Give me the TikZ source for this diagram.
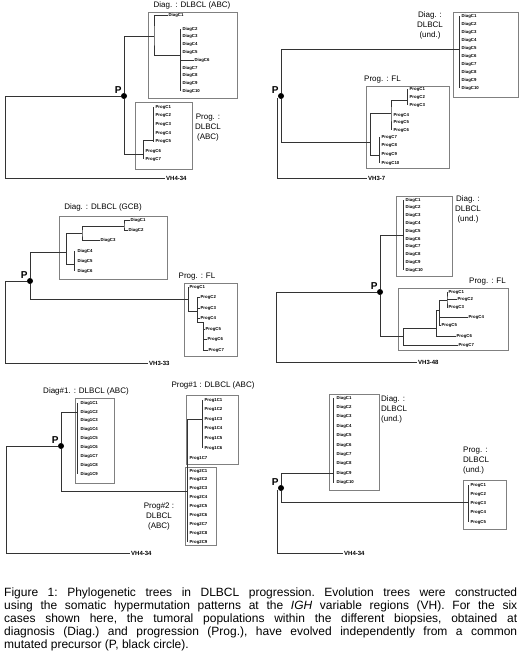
\documentclass[tikz,border=0pt]{standalone}
\usepackage{fontspec}
\setmainfont{Liberation Sans}
\usetikzlibrary{positioning, fit}

\begin{document}
\begin{tikzpicture}[x=1pt,y=-1pt,
      br/.style={draw=black!80,line width=0.7pt},
      every fit/.style={draw=black!50,line width=0.6pt,inner sep=0pt},
      leaf/.style={anchor=west,inner sep=0.4pt,font=\fontsize{4.3}{5}\selectfont\bfseries},
      vh/.style={anchor=west,inner sep=1pt,font=\fontsize{6}{6}\selectfont\bfseries},
      grp/.style={inner sep=0pt,align=center,font=\fontsize{8}{10}\selectfont},
      pdot/.style={circle,fill=black,inner sep=0pt,minimum size=6pt},
      plab/.style={inner sep=0pt,font=\fontsize{10}{10}\selectfont\bfseries}]
    \useasboundingbox (0,0) rectangle (520,663);

    %% case 1
    \node[pdot] (p1) at (124,96) {};
    \node[plab, above left=0pt of p1] {P};
    \node[grp] (d1lab) at (192,5) {Diag. : DLBCL (ABC)};
    \node[fit={(148,12) (237,98)}] (d1box) {};
    \node[leaf] (d1c1) at (168,15) {DiagC1};
    \foreach \i in {2,3,4,5,7,8,9,10}
      \node[leaf] (d1c\i) at (182,{29+7.8*(\i-2)}) {DiagC\i};
    \node[leaf] (d1c6) at (194,60.2) {DiagC6};
    \coordinate (d1a) at (154,36);
    \coordinate (d1b) at (180,55);
    \draw[br] (d1c1.west) -| (d1a) |- (d1b);
    \draw[br] (d1c2.west -| d1b) -- (d1c10.west -| d1b);
    \draw[br] (d1c6.west -| d1b) -- (d1c6.west);
    \draw[br] (p1) |- (d1a);
    \node[grp] (r1lab) at (208,128) {Prog. :\\DLBCL\\(ABC)};
    \node[fit={(135,102) (192,169)}] (r1box) {};
    \foreach \i in {1,...,5}
      \node[leaf] (r1c\i) at (155,{107+8.7*(\i-1)}) {ProgC\i};
    \node[leaf] (r1c6) at (145,151) {ProgC6};
    \node[leaf] (r1c7) at (145,159) {ProgC7};
    \coordinate (r1a) at (143,154);
    \coordinate (r1b) at (153,140);
    \draw[br] (r1c1.west -| r1b) -- (r1c5.west -| r1b);
    \draw[br] (r1b) -| (r1c7.west -| r1a);
    \draw[br] (p1) |- (r1a);
    \coordinate (o1) at (5,178);
    \node[vh] (vh1) at (165,178) {VH4-34};
    \draw[br] (p1) -| (o1) -- (vh1.west);

    %% case 2
    \node[pdot] (p2) at (281,96) {};
    \node[plab, above left=0pt of p2] {P};
    \node[grp] (d2lab) at (430,25) {Diag. :\\DLBCL\\(und.)};
    \node[fit={(453,12) (518,97)}] (d2box) {};
    \foreach \i in {1,...,10}
      \node[leaf] (d2c\i) at (461,{16+8*(\i-1)}) {DiagC\i};
    \coordinate (d2a) at (459,49);
    \draw[br] (d2c1.west -| d2a) -- (d2c10.west -| d2a);
    \draw[br] (p2) |- (d2a);
    \node[grp, anchor=west] (r2lab) at (364,80) {Prog. : FL};
    \node[fit={(366,86) (449,168)}] (r2box) {};
    \foreach \i in {1,2,3}
      \node[leaf] (r2c\i) at (409,{89+8*(\i-1)}) {ProgC\i};
    \foreach \i in {4,5,6}
      \node[leaf] (r2c\i) at (393,{115+7.5*(\i-4)}) {ProgC\i};
    \foreach \i in {7,...,10}
      \node[leaf] (r2c\i) at (381,{137+8.7*(\i-7)}) {ProgC\i};
    \coordinate (r2a) at (370,142);
    \coordinate (r2b) at (391,113);
    \coordinate (r2c) at (407,100);
    \coordinate (r2d) at (379,155);
    \draw[br] (r2c1.west -| r2c) -- (r2c3.west -| r2c);
    \draw[br] (r2c) -| (r2b) -- (r2c6.west -| r2b);
    \draw[br] (r2b) -- (r2b -| r2a) -- (r2d -| r2a) -- (r2d);
    \draw[br] (r2c7.west -| r2d) -- (r2c10.west -| r2d);
    \draw[br] (p2) |- (r2a);
    \coordinate (o2) at (277,98);
    \node[vh] (vh2) at (367,178) {VH3-7};
    \draw[br] (o2) |- (vh2.west);

    %% case 3
    \node[pdot] (p3) at (30,281) {};
    \node[plab, above left=0pt of p3] {P};
    \node[grp] (d3lab) at (103,207) {Diag. : DLBCL (GCB)};
    \node[fit={(59,216) (167,279)}] (d3box) {};
    \node[leaf] (d3c1) at (130,220) {DiagC1};
    \node[leaf] (d3c2) at (128,230) {DiagC2};
    \node[leaf] (d3c3) at (100,240) {DiagC3};
    \foreach \i in {4,5,6}
      \node[leaf] (d3c\i) at (77,{251+10*(\i-4)}) {DiagC\i};
    \coordinate (d3a) at (66,252);
    \coordinate (d3b) at (82,233);
    \coordinate (d3c) at (124,226);
    \coordinate (d3d) at (74,264);
    \draw[br] (d3c1.west) -| (d3c) |- (d3c2.west);
    \draw[br] (d3c) -| (d3b) |- (d3c3.west);
    \draw[br] (d3b) -- (d3b -| d3a) |- (d3d);
    \draw[br] (d3c4.west -| d3d) -- (d3c6.west -| d3d);
    \draw[br] (p3) |- (d3a);
    \node[grp] (r3lab) at (197,277) {Prog. : FL};
    \node[fit={(184,283) (237,356)}] (r3box) {};
    \node[leaf] (r3c1) at (189,287) {ProgC1};
    \foreach \i/\y in {2/297,3/308,4/318}
      \node[leaf] (r3c\i) at (200,\y) {ProgC\i};
    \node[leaf] (r3c5) at (205,329) {ProgC5};
    \node[leaf] (r3c6) at (207,339) {ProgC6};
    \node[leaf] (r3c7) at (208,350) {ProgC7};
    \coordinate (r3a) at (188,299);
    \coordinate (r3b) at (197,311);
    \coordinate (r3d) at (203,322);
    \draw[br] (r3c1.west) -| (r3b -| r3a) -- (r3b);
    \draw[br] (r3c2.west) -| (r3d -| r3b) -- (r3d);
    \draw[br] (r3c3.west -| r3b) -- (r3c3.west);
    \draw[br] (r3c4.west -| r3b) -- (r3c4.west);
    \draw[br] (r3d) |- (r3c7.west);
    \draw[br] (r3c5.west -| r3d) -- (r3c5.west);
    \draw[br] (r3c6.west -| r3d) -- (r3c6.west);
    \draw[br] (p3) |- (r3a);
    \coordinate (o3) at (5,363);
    \node[vh] (vh3) at (148,363) {VH3-33};
    \draw[br] (p3) -| (o3) -- (vh3.west);

    %% case 4
    \node[pdot] (p4) at (380,292) {};
    \node[plab, above left=0pt of p4] {P};
    \node[grp] (d4lab) at (468,209) {Diag. :\\DLBCL\\(und.)};
    \node[fit={(396,196) (452,276)}] (d4box) {};
    \foreach \i in {1,...,10}
      \node[leaf] (d4c\i) at (405,{200+7.8*(\i-1)}) {DiagC\i};
    \coordinate (d4a) at (403,235);
    \draw[br] (d4c1.west -| d4a) -- (d4c10.west -| d4a);
    \draw[br] (p4) |- (d4a);
    \node[grp, anchor=east] (r4lab) at (506,282) {Prog. : FL};
    \node[fit={(398,288) (508,350)}] (r4box) {};
    \node[leaf] (r4c1) at (448,292) {ProgC1};
    \node[leaf] (r4c2) at (457,299.5) {ProgC2};
    \node[leaf] (r4c3) at (448,307) {ProgC3};
    \node[leaf] (r4c4) at (468,317) {ProgC4};
    \node[leaf] (r4c5) at (441,325) {ProgC5};
    \node[leaf] (r4c6) at (456,336) {ProgC6};
    \node[leaf] (r4c7) at (458,345) {ProgC7};
    \coordinate (r4a) at (403,336);
    \coordinate (r4e) at (403,328);
    \coordinate (r4b) at (436,310);
    \coordinate (r4c) at (439,300);
    \coordinate (r4d) at (447,300);
    \draw[br] (r4c7.west) -| (r4e) -| (r4b);
    \draw[br] (r4c6.west) -| (r4b) -- (r4b -| r4c) |- (r4c5.west);
    \draw[br] (r4c) -- (r4b -| r4c);
    \draw[br] (r4c4.west -| r4c) -- (r4c4.west);
    \draw[br] (r4c) -- (r4d);
    \draw[br] (r4c1.west) -| (r4d) |- (r4c3.west);
    \draw[br] (r4c2.west -| r4d) -- (r4c2.west);
    \draw[br] (p4) |- (r4a);
    \coordinate (o4) at (276,362);
    \node[vh] (vh4) at (417,362) {VH3-48};
    \draw[br] (p4) -| (o4) -- (vh4.west);

    %% case 5
    \node[pdot] (p5) at (61,446) {};
    \node[plab, above left=0pt of p5] {P};
    \node[grp] (d5lab) at (86,391) {Diag\#1. : DLBCL (ABC)};
    \node[fit={(75,398) (114,483)}] (d5box) {};
    \foreach \i in {1,...,9}
      \node[leaf] (d5c\i) at (80,{403+8.9*(\i-1)}) {Diag1C\i};
    \coordinate (d5a) at (77,412);
    \draw[br] (d5c1.west -| d5a) -- (d5c9.west -| d5a);
    \draw[br] (p5) |- (d5a);
    \node[grp] (r5lab) at (213,385) {Prog\#1 : DLBCL (ABC)};
    \node[fit={(186,395) (238,464)}] (r5box) {};
    \foreach \i in {1,...,6}
      \node[leaf] (r5c\i) at (204,{400+9.6*(\i-1)}) {Prog1C\i};
    \node[leaf] (r5c7) at (189,458) {Prog1C7};
    \node[grp] (q5lab) at (159,517) {Prog\#2 :\\DLBCL\\(ABC)};
    \node[fit={(185,467) (216,545)}] (q5box) {};
    \foreach \i in {1,...,9}
      \node[leaf] (q5c\i) at (189,{471+8.9*(\i-1)}) {Prog2C\i};
    \coordinate (r5a) at (187,491);
    \coordinate (r5b) at (202,419);
    \draw[br] (r5b) -- (r5a |- r5b) -- (q5c9.west -| r5a);
    \draw[br] (r5c1.west -| r5b) -- (r5c6.west -| r5b);
    \draw[br] (p5) |- (r5a);
    \coordinate (o5) at (6,553);
    \node[vh] (vh5) at (130,553) {VH4-34};
    \draw[br] (p5) -| (o5) -- (vh5.west);

    %% case 6
    \node[pdot] (p6) at (281,488) {};
    \node[plab, above left=0pt of p6] {P};
    \node[grp, align=left, anchor=west] (d6lab) at (381,409) {Diag. :\\DLBCL\\(und.)};
    \node[fit={(329,394) (379,490)}] (d6box) {};
    \foreach \i in {1,...,10}
      \node[leaf] (d6c\i) at (336,{398+9.4*(\i-1)}) {DiagC\i};
    \coordinate (d6a) at (333,473);
    \draw[br] (d6c1.west -| d6a) -- (d6c10.west -| d6a);
    \draw[br] (p6) |- (d6a);
    \node[grp, align=left, anchor=west] (r6lab) at (463,461) {Prog. :\\DLBCL\\(und.)};
    \node[fit={(463,480) (506,529)}] (r6box) {};
    \foreach \i in {1,...,5}
      \node[leaf] (r6c\i) at (470,{485+9.25*(\i-1)}) {ProgC\i};
    \coordinate (r6a) at (468,502);
    \draw[br] (r6c1.west -| r6a) -- (r6c5.west -| r6a);
    \draw[br] (p6) |- (r6a);
    \coordinate (o6) at (277,490);
    \node[vh] (vh6) at (343,553) {VH4-34};
    \draw[br] (o6) |- (vh6.west);

    %% caption
    \node[anchor=north west, inner sep=0pt, text width=513pt, align=justify,
      font=\fontsize{12}{13}\selectfont] (cap) at (4,587.5)
      {\frenchspacing\hyphenpenalty=10000
       Figure 1: Phylogenetic trees in DLBCL progression. Evolution trees were constructed\linebreak
       using the somatic hypermutation patterns at the \textit{IGH} variable regions (VH). For the six\linebreak
       cases shown here, the tumoral populations within the different biopsies, obtained at\linebreak
       diagnosis (Diag.) and progression (Prog.), have evolved independently from a common\linebreak
       mutated precursor (P, black circle).};
\end{tikzpicture}
\end{document}
